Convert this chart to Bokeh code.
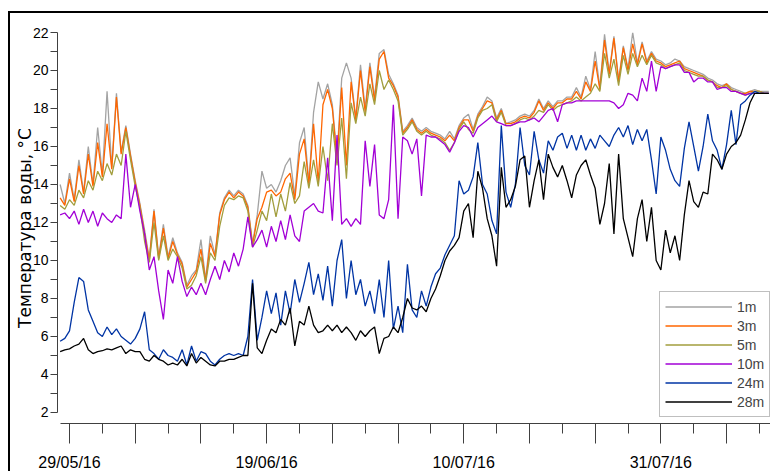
import numpy as np
import pandas as pd
from bokeh.plotting import figure
from bokeh.models import ColumnDataSource, FixedTicker, Legend, LegendItem, GlobalInlineStyleSheet
from bokeh.embed import file_html
from bokeh.resources import INLINE

# ---------------- data (12-hourly readings) ----------------
START = "2016-05-28 00:00"
STEP = "12h"
REF_DATE = "2016-05-29"

T_1m = [
    14.0, 13.0, 14.6, 13.2, 15.3, 13.6, 16.0, 14.0, 17.0, 14.5,
    18.9, 14.9, 18.8, 15.7, 17.1, 15.6, 14.2, 13.0, 11.6, 10.1,
    12.7, 10.2, 11.9, 10.2, 11.2, 10.4, 9.9, 8.7, 9.2, 9.5,
    11.1, 9.0, 11.3, 10.3, 12.5, 13.3, 13.7, 13.4, 13.7, 13.5,
    12.9, 10.9, 12.4, 14.7, 13.8, 14.0, 13.6, 14.2, 15.0, 15.4,
    13.4, 16.2, 17.0, 14.1, 17.8, 19.4, 18.5, 19.3, 18.2, 15.5,
    19.6, 20.4, 19.6, 17.5, 20.3, 18.0, 20.4, 18.6, 20.9, 21.1,
    19.8, 19.3, 18.7, 16.8, 17.1, 17.5, 17.0, 16.8, 17.0, 16.8,
    16.7, 16.6, 16.4, 16.8, 16.4, 17.1, 17.5, 17.7, 16.9, 17.7,
    18.1, 18.6, 18.4, 17.5, 18.0, 17.2, 17.3, 17.4, 17.6, 17.7,
    17.6, 17.9, 18.5, 18.0, 18.4, 18.1, 18.4, 18.4, 18.6, 18.6,
    19.1, 18.6, 19.7, 19.0, 21.0, 19.1, 21.9, 19.9, 21.8, 19.5,
    21.3, 20.1, 22.0, 20.4, 21.5, 20.5, 21.0, 20.6, 20.5, 20.3,
    20.4, 20.6, 20.5, 20.2, 20.1, 20.0, 19.9, 19.8, 19.6, 19.5,
    19.3, 19.2, 19.3, 19.1, 19.0, 18.9, 18.8, 18.9, 19.0, 18.9,
    18.9, 18.9,
]
T_3m = [
    13.3, 12.9, 14.3, 13.1, 15.0, 13.5, 15.6, 13.9, 16.2, 14.4,
    17.2, 14.8, 18.6, 15.6, 17.0, 15.5, 14.1, 12.9, 11.4, 10.0,
    12.6, 10.1, 11.7, 10.1, 11.0, 10.3, 9.8, 8.6, 9.0, 9.4,
    10.6, 8.9, 10.9, 10.2, 12.4, 13.2, 13.6, 13.3, 13.6, 13.4,
    12.8, 10.8, 12.2, 12.8, 13.6, 13.7, 13.4, 13.6, 14.3, 14.6,
    13.2, 15.6, 16.4, 14.0, 17.2, 14.1, 18.2, 19.0, 18.0, 15.3,
    19.1, 15.0, 19.4, 17.4, 20.0, 17.8, 20.2, 18.4, 20.6, 21.0,
    19.6, 19.2, 18.6, 16.7, 17.0, 17.4, 16.9, 16.7, 16.9, 16.7,
    16.6, 16.5, 16.3, 16.6, 16.3, 17.0, 17.4, 17.4, 16.8, 17.6,
    18.0, 18.4, 18.3, 17.4, 17.9, 17.2, 17.2, 17.3, 17.5, 17.6,
    17.5, 17.8, 18.4, 17.9, 18.3, 18.0, 18.3, 18.3, 18.5, 18.5,
    18.9, 18.5, 19.4, 18.9, 20.5, 19.0, 21.6, 19.8, 21.7, 19.4,
    21.2, 20.0, 21.4, 20.3, 21.4, 20.4, 20.9, 20.5, 20.4, 20.2,
    20.3, 20.4, 20.5, 20.1, 20.0, 19.9, 19.8, 19.7, 19.5, 19.4,
    19.2, 19.1, 19.3, 19.0, 18.9, 18.8, 18.8, 18.9, 18.9, 18.9,
    18.8, 18.8,
]
T_5m = [
    12.9, 12.7, 13.2, 12.9, 13.7, 13.3, 14.2, 13.7, 14.7, 14.2,
    15.1, 14.5, 15.6, 15.0, 16.8, 15.3, 13.9, 12.8, 11.0, 9.9,
    12.0, 10.0, 11.3, 10.0, 10.6, 10.2, 9.6, 8.5, 8.7, 9.2,
    10.2, 8.8, 10.4, 10.0, 11.8, 12.9, 13.3, 13.2, 13.4, 13.3,
    12.6, 10.7, 11.6, 12.6, 12.1, 13.5, 12.3, 13.5, 12.6, 14.1,
    13.0, 13.4, 15.2, 13.8, 15.3, 13.9, 16.0, 14.2, 17.2, 15.0,
    17.5, 14.3, 18.3, 17.2, 18.6, 17.6, 19.3, 18.2, 20.0, 19.0,
    19.5, 19.0, 18.4, 16.6, 16.9, 17.3, 16.8, 16.6, 16.8, 16.6,
    16.5, 16.4, 16.2, 15.8, 16.2, 16.9, 17.3, 16.9, 16.7, 17.5,
    17.9, 18.0, 18.2, 17.3, 17.8, 17.1, 17.1, 17.2, 17.4, 17.5,
    17.4, 17.6, 17.9, 17.8, 18.2, 17.9, 18.1, 18.2, 18.3, 18.4,
    18.6, 18.4, 18.6, 18.8, 19.3, 18.9, 20.9, 19.6, 20.6, 19.2,
    20.8, 19.8, 20.9, 20.2, 20.8, 20.3, 20.8, 20.4, 20.3, 20.1,
    20.2, 20.3, 20.4, 20.0, 19.9, 19.8, 19.7, 19.7, 19.5, 19.4,
    19.1, 19.1, 19.2, 19.0, 18.9, 18.8, 18.7, 18.8, 18.9, 18.9,
    18.8, 18.8,
]
T_10m = [
    12.4, 12.5, 12.2, 12.6, 11.9, 12.7, 12.0, 12.6, 11.8, 12.5,
    12.2, 12.0, 12.4, 12.2, 15.6, 12.8, 14.0, 12.6, 11.4, 9.5,
    10.2, 8.4, 6.9, 9.5, 8.8, 10.2, 8.9, 8.1, 8.6, 8.2,
    8.8, 8.2, 9.0, 9.7, 9.0, 10.0, 9.4, 10.4, 9.7, 10.6,
    12.3, 10.7, 11.1, 11.6, 10.7, 11.8, 11.0, 12.1, 11.1, 12.4,
    11.3, 11.0, 12.6, 12.8, 13.0, 12.6, 12.5, 15.4, 12.1, 16.6,
    11.9, 12.2, 11.8, 12.2, 11.9, 16.3, 13.9, 16.1, 12.4, 12.2,
    13.2, 18.2, 12.2, 16.5, 16.3, 15.6, 16.4, 13.4, 16.6, 16.5,
    16.5, 16.3, 16.1, 15.7, 16.2, 16.8, 17.1, 17.0, 16.5, 17.0,
    17.2, 17.4, 17.6, 17.3, 17.2, 17.1, 17.1, 17.2, 17.3, 17.3,
    17.4, 17.5, 17.3, 17.6, 17.9, 18.0, 17.3, 18.2, 18.3, 18.3,
    18.4, 18.4, 18.4, 18.4, 18.4, 18.4, 18.4, 18.4, 18.3, 18.0,
    18.2, 18.8, 18.7, 18.4, 19.6, 18.9, 20.5, 18.9, 20.2, 20.1,
    20.2, 20.3, 20.3, 19.9, 19.9, 19.4, 19.6, 19.6, 19.4, 19.4,
    19.0, 19.1, 19.1, 18.9, 18.9, 18.8, 18.7, 18.8, 18.8, 18.8,
    18.8, 18.8,
]
T_24m = [
    5.75, 5.9, 6.3, 7.8, 9.1, 8.9, 7.4, 6.8, 6.2, 6.0,
    6.5, 6.1, 6.4, 6.0, 5.8, 5.6, 5.9, 6.4, 7.3, 5.3,
    5.1, 4.8, 5.3, 5.0, 4.9, 4.7, 5.3, 4.5, 5.5, 4.7,
    5.2, 5.1, 4.7, 4.5, 4.8, 5.0, 5.1, 5.0, 5.1, 5.0,
    6.0, 9.0, 5.8, 7.0, 8.4, 7.2, 8.3, 6.6, 8.4, 7.2,
    9.0, 7.8, 8.8, 9.9, 8.2, 9.3, 7.9, 9.7, 7.6, 10.0,
    11.1, 8.0, 10.0, 8.2, 9.0, 7.6, 8.4, 7.2, 9.0, 7.0,
    10.0, 6.4, 7.6, 6.2, 9.8, 7.4, 7.0, 8.4, 7.6, 8.6,
    9.3, 9.6, 10.3, 10.8, 11.3, 14.2, 13.5, 13.7, 14.4, 16.2,
    14.0, 13.5, 12.1, 11.4, 17.1, 13.6, 12.8, 14.0, 17.0, 15.0,
    14.5, 16.8, 15.3, 14.6, 16.3, 15.8, 16.5, 16.7, 15.9, 16.6,
    15.8, 16.6, 15.8, 16.4, 15.9, 16.6, 16.3, 16.0, 16.6, 17.0,
    16.5, 17.1, 16.1, 16.9, 16.3, 16.9, 15.3, 13.5, 16.5, 15.8,
    14.8, 14.2, 13.9, 15.9, 17.3, 16.0, 14.7, 16.0, 17.7, 16.3,
    15.8, 14.8, 16.1, 17.9, 16.1, 18.2, 18.4, 18.7, 18.9, 18.8,
    18.8, 18.8,
]
T_28m = [
    5.2, 5.3, 5.35, 5.5, 5.6, 5.9, 5.3, 5.1, 5.2, 5.25,
    5.35, 5.3, 5.4, 5.5, 5.1, 5.3, 5.2, 5.2, 4.8, 4.7,
    5.0, 4.8, 4.7, 4.5, 4.6, 4.5, 4.8, 4.45, 5.1, 4.6,
    4.9, 4.7, 4.5, 4.45, 4.7, 4.7, 4.8, 4.8, 4.9, 5.0,
    5.0, 8.8, 5.4, 5.1, 5.8, 6.4, 6.2, 6.9, 6.6, 7.5,
    5.5, 6.8, 6.6, 7.6, 6.6, 6.2, 6.3, 6.6, 6.3, 6.6,
    6.2, 6.5, 6.2, 5.8, 6.3, 6.0, 6.3, 6.5, 5.1, 5.9,
    6.0, 6.5, 6.2, 7.0, 8.0, 7.5, 7.4, 7.6, 7.3, 8.0,
    8.5, 9.2, 10.0, 10.5, 10.8, 11.2, 12.6, 13.0, 11.2, 14.7,
    13.8, 12.2, 11.3, 9.7, 14.9, 12.8, 13.2, 13.9, 15.3, 15.5,
    12.8, 14.2, 15.3, 13.2, 15.6, 14.9, 14.4, 15.0, 14.2, 13.3,
    14.5, 15.0, 15.3, 14.5, 13.8, 11.9, 13.0, 15.1, 11.4, 15.6,
    12.2, 11.2, 10.2, 12.2, 13.2, 11.0, 12.8, 10.0, 9.5, 11.6,
    10.4, 11.3, 10.0, 12.4, 14.2, 13.1, 12.8, 13.6, 13.5, 15.6,
    15.3, 14.8, 15.6, 16.0, 16.2, 16.6, 17.4, 18.3, 18.8, 18.8,
    18.8, 18.8,
]

DEPTHS = ["1m", "3m", "5m", "10m", "24m", "28m"]
COLORS = ["#a3a3a3", "#ff6600", "#a29e3e", "#a200d6", "#0034a4", "#000000"]
DATE_LABELS = ["29/05/16", "19/06/16", "10/07/16", "31/07/16"]
Y_TICKS = [2, 4, 6, 8, 10, 12, 14, 16, 18, 20, 22]
Y_MINOR = [3, 5, 7, 9, 11, 13, 15, 17, 19, 21]
Y_LABEL = "Температура воды, °C"

# ---------------- build ----------------
times = pd.date_range(START, periods=len(T_1m), freq=STEP)
ref = pd.Timestamp(REF_DATE)
x = ((times - ref) / pd.Timedelta(days=1)).to_numpy()

series = [T_1m, T_3m, T_5m, T_10m, T_24m, T_28m]
src = ColumnDataSource(dict(x=x, **{d: s for d, s in zip(DEPTHS, series)}))

label_days = [float((pd.to_datetime(s, format="%d/%m/%y") - ref).days) for s in DATE_LABELS]
week_ticks = [float(d) for d in range(0, 75, 7)]
half_week = [d + 3.5 for d in week_ticks]
overrides = {d: "" for d in week_ticks}
for d, s in zip(label_days, DATE_LABELS):
    overrides[d] = s

p = figure(width=760, height=460, margin=(5, 0, 0, 2),
           x_range=(-1.28, 74.68), y_range=(1.42, 22.0),
           output_backend="svg", toolbar_location=None,
           min_border_left=47, min_border_right=0, min_border_top=19, min_border_bottom=49)
p.outline_line_color = None
p.xgrid.visible = False
p.ygrid.visible = False
p.background_fill_color = "white"
p.border_fill_color = "white"

renderers = []
for d, c in zip(DEPTHS, COLORS):
    r = p.line("x", d, source=src, line_color=c, line_width=1.3)
    renderers.append(r)

# x axis
xa = p.xaxis[0]
xa.ticker = FixedTicker(ticks=week_ticks, minor_ticks=half_week)
xa.major_label_overrides = overrides
xa.bounds = (-1.0, 80.0)
xa.axis_line_color = "#404040"
xa.major_tick_line_color = "#404040"
xa.minor_tick_line_color = "#404040"
xa.major_tick_in = 0
xa.major_tick_out = 20
xa.minor_tick_in = 0
xa.minor_tick_out = 10
xa.major_label_standoff = 10
xa.major_label_text_font = "Liberation Sans"
xa.major_label_text_font_size = "16px"
xa.major_label_text_color = "black"

# y axis
ya = p.yaxis[0]
ya.ticker = FixedTicker(ticks=Y_TICKS, minor_ticks=Y_MINOR)
ya.bounds = (2, 22)
ya.axis_line_color = "#404040"
ya.major_tick_line_color = "#404040"
ya.minor_tick_line_color = "#404040"
ya.major_tick_in = 0
ya.major_tick_out = 7
ya.minor_tick_in = 0
ya.minor_tick_out = 7
ya.major_label_standoff = 2
ya.major_label_text_font = "Liberation Sans"
ya.major_label_text_font_size = "14px"
ya.major_label_text_color = "black"
ya.axis_label = Y_LABEL
ya.axis_label_text_font = "DejaVu Sans"
ya.axis_label_text_font_size = "17px"
ya.axis_label_text_font_style = "normal"
ya.axis_label_text_color = "black"
ya.axis_label_text_line_height = 1.0
ya.axis_label_standoff = -5

legend = Legend(items=[LegendItem(label=d, renderers=[r]) for d, r in zip(DEPTHS, renderers)],
                location=(602, 6), glyph_width=67, glyph_height=19, label_height=19,
                spacing=0, padding=5, margin=0, label_standoff=5,
                label_text_font="Liberation Sans", label_text_font_size="14px",
                border_line_color="#808080", border_line_width=1,
                background_fill_color="white", background_fill_alpha=1.0)
p.add_layout(legend)

p.styles = {"box-shadow": "-2px -2px 0 0 #000000"}
p.stylesheets = [GlobalInlineStyleSheet(css="html { overflow: hidden; } body { margin: 8px 0 0 8px; }")]

open("out.html", "w").write(file_html(p, INLINE))
